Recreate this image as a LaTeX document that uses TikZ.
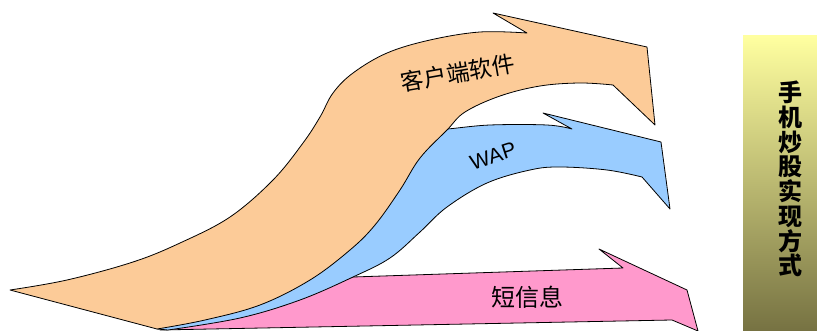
\documentclass[tikz,border=0pt]{standalone}
\usepackage{fontspec}
\newfontfamily\cjk{Noto Sans CJK SC}
\newfontfamily\lat{Liberation Sans}
\definecolor{orangefill}{RGB}{252,203,152}
\definecolor{bluefill}{RGB}{153,204,255}
\definecolor{pinkfill}{RGB}{255,153,204}
\definecolor{paneltop}{RGB}{255,255,160}
\definecolor{panelbot}{RGB}{118,114,66}
\tikzset{
  band/.style={draw=black, line width=0.8pt, line join=round},
  lbl/.style={inner sep=0pt, text=black},
}
\begin{document}
\begin{tikzpicture}[x=1pt,y=-1pt]
\useasboundingbox (0,0) rectangle (817,331);
% pink band
\filldraw[band, fill=pinkfill]
  plot[smooth, tension=0.6] coordinates {(160,330) (240,315) (300,296) (353,277)}
  -- (623,268) -- (599,249) -- (687,290) -- (698,331) -- (672,320) -- cycle;
% blue band
\filldraw[band, fill=bluefill]
  plot[smooth, tension=0.6] coordinates {(157,329) (205,316) (258,300) (305,277) (345,247) (370,222) (395,187) (416,155) (440,128) (447,129) (490,125) (547,125) (572,129)}
  -- (543,113) -- (661,142) -- (670,209) -- (642,177)
  -- plot[smooth, tension=0.6] coordinates {(642,177) (607,170) (560,167) (530,170) (487,183) (447,207) (420,232) (390,258) (353,277) (300,300) (240,318) (168,330)}
  -- cycle;
% orange band
\filldraw[band, fill=orangefill]
  plot[smooth, tension=0.6] coordinates {(10,290) (67,280) (133,262) (180,243) (230,217) (273,180) (303,143) (320,117) (333,93) (353,73) (387,53) (430,40) (480,32) (527,33)}
  -- (493,13) -- (647,47) -- (655,125) -- (613,85)
  -- plot[smooth, tension=0.6] coordinates {(613,85) (580,83) (540,86) (500,96) (465,112) (447,130) (420,158) (400,190) (375,225) (350,250) (310,280) (260,305) (205,320) (157,329)}
  -- cycle;
% labels
\node[lbl, font=\cjk\fontsize{23}{23}\selectfont, rotate=10] (client) at (458,73) {客户端软件};
\node[lbl, font=\lat\fontsize{21}{21}\selectfont, rotate=18] (wap) at (493,156) {WAP};
\node[lbl, font=\cjk\fontsize{24}{24}\selectfont] (sms) at (527,297) {短信息};
% side panel
\shade[top color=paneltop, bottom color=panelbot] (743,36) rectangle (817,331);
\node[lbl, font=\cjk\bfseries\fontsize{24}{24.75}\selectfont, align=center] (title) at (790,179) {手\\机\\炒\\股\\实\\现\\方\\式};
\end{tikzpicture}
\end{document}
